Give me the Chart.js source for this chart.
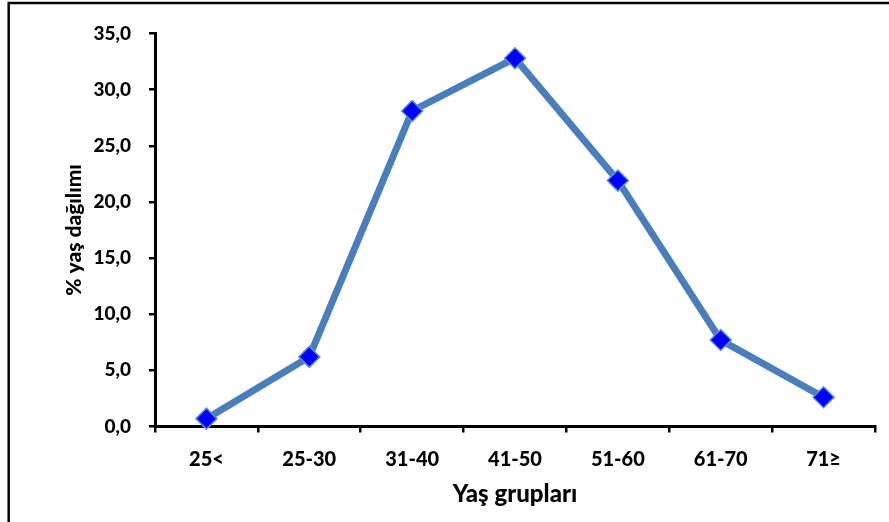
<!DOCTYPE html>
<html>
<head>
<meta charset="utf-8">
<script src="https://cdn.jsdelivr.net/npm/chart.js@4.4.1/dist/chart.umd.min.js"></script>
<style>
  html, body { margin: 0; padding: 0; background: #fff; overflow: hidden; }
  canvas { display: block; }
</style>
</head>
<body>
<canvas id="chart" width="889" height="522"></canvas>
<script>
// yaş grupları ve yüzde dağılımı
const ageGroups = ['25<', '25-30', '31-40', '41-50', '51-60', '61-70', '71≥'];
const percentValues = [0.7, 6.2, 28.1, 32.8, 21.9, 7.7, 2.6];
const yMin = 0;
const yMax = 35;
const yStep = 5;

const FONT = 'Lato, "Open Sans", sans-serif';
const WEIGHT = 900;

// dış çerçeve (sadece üst ve sol kenar görünüyor)
const frameBorder = {
  id: 'frameBorder',
  afterDraw(chart) {
    const ctx = chart.ctx;
    ctx.save();
    ctx.strokeStyle = '#000';
    ctx.lineWidth = 2.5;
    ctx.beginPath();
    ctx.moveTo(8.7, 530);
    ctx.lineTo(8.7, 3);
    ctx.lineTo(900, 3);
    ctx.stroke();
    ctx.restore();
  }
};

const ctx = document.getElementById('chart').getContext('2d');

const chart = new Chart(ctx, {
  type: 'line',
  data: {
    labels: ageGroups,
    datasets: [{
      data: percentValues,
      borderColor: '#4A7EBB',
      borderWidth: 7,
      tension: 0,
      fill: false,
      pointStyle: 'rectRot',
      pointRadius: 10.5,
      pointHoverRadius: 10.5,
      pointBackgroundColor: '#0000FF',
      pointBorderColor: '#5B8FD0',
      pointBorderWidth: 1.5,
      clip: false
    }]
  },
  options: {
    responsive: false,
    animation: false,
    devicePixelRatio: 1,
    layout: {
      padding: { left: 0, top: 33.5, right: 14, bottom: 0 }
    },
    plugins: {
      legend: { display: false },
      tooltip: { enabled: false }
    },
    scales: {
      x: {
        type: 'category',
        offset: true,
        afterFit(scale) { scale.height = 95.5; },
        grid: {
          offset: true,
          drawOnChartArea: false,
          drawTicks: true,
          tickLength: 6,
          color: '#000',
          lineWidth: 2.5
        },
        border: { color: '#000', width: 3 },
        ticks: {
          color: '#000',
          padding: 15,
          maxRotation: 0,
          font: { family: FONT, size: 20, weight: WEIGHT }
        },
        title: {
          display: true,
          text: 'Yaş grupları',
          color: '#000',
          padding: { top: 0, bottom: 13 },
          font: { family: FONT, size: 24, weight: WEIGHT, lineHeight: 1.2 }
        }
      },
      y: {
        min: yMin,
        max: yMax,
        afterFit(scale) { scale.width = 155; },
        grid: {
          drawOnChartArea: false,
          drawTicks: true,
          tickLength: 6,
          color: '#000',
          lineWidth: 2.5
        },
        border: { color: '#000', width: 3 },
        ticks: {
          stepSize: yStep,
          color: '#000',
          padding: 18,
          font: { family: FONT, size: 19, weight: WEIGHT },
          callback: v => v.toFixed(1).replace('.', ',')
        },
        title: {
          display: true,
          text: '% yaş dağılımı',
          color: '#000',
          padding: { top: 62, bottom: 0 },
          font: { family: FONT, size: 21, weight: WEIGHT, lineHeight: 1.2 }
        }
      }
    }
  },
  plugins: [frameBorder]
});
</script>
</body>
</html>
